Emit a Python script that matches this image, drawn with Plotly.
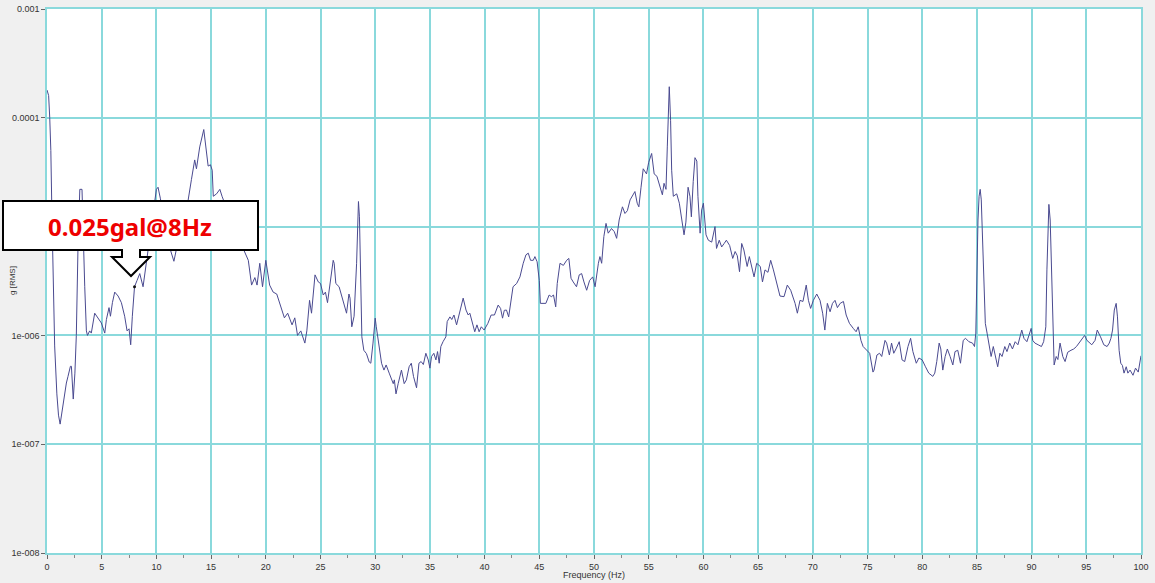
import plotly.graph_objects as go

# ---------------- data ----------------
freq_hz = [
    0.0, 0.15, 0.25, 0.35, 0.45, 0.55, 0.7, 0.9, 1.05, 1.2, 1.46, 1.62, 1.77, 1.92, 2.14, 2.23, 2.32, 2.4,
    2.55, 2.68, 2.84, 3.0, 3.2, 3.3, 3.45, 3.6, 3.7, 3.9, 4.05, 4.36, 4.67, 4.97, 5.28, 5.43, 5.67, 5.8,
    5.98, 6.19, 6.5, 6.8, 7.1, 7.32, 7.5, 7.65, 7.8, 8.0, 8.23, 8.48, 8.78, 9.03, 9.24, 9.6, 10.0, 10.15,
    10.37, 10.7, 11.1, 11.6, 12.0, 12.5, 12.9, 13.2, 13.5, 13.66, 13.96, 14.33, 14.58, 14.73, 14.94, 15.1,
    15.2, 15.5, 15.8, 16.0, 16.5, 17.0, 17.6, 18.1, 18.4, 18.7, 19.0, 19.2, 19.45, 19.7, 20.0, 20.35,
    20.67, 21.0, 21.4, 21.7, 22.0, 22.4, 22.65, 22.9, 23.2, 23.57, 23.75, 24.0, 24.18, 24.5, 24.8, 25.0,
    25.25, 25.45, 25.64, 25.9, 26.16, 26.25, 26.4, 26.7, 26.92, 27.2, 27.38, 27.6, 27.7, 27.86, 28.07,
    28.3, 28.38, 28.47, 28.56, 28.66, 28.78, 28.96, 29.2, 29.45, 29.6, 29.8, 30.0, 30.1, 30.36, 30.58,
    30.8, 31.0, 31.28, 31.5, 31.65, 31.75, 31.9, 32.1, 32.4, 32.65, 32.85, 33.1, 33.3, 33.5, 33.78, 34.0,
    34.2, 34.4, 34.63, 34.85, 35.0, 35.15, 35.36, 35.55, 35.7, 35.85, 36.0, 36.2, 36.46, 36.58, 36.83,
    37.0, 37.2, 37.44, 37.74, 38.04, 38.3, 38.5, 38.65, 38.87, 39.1, 39.3, 39.5, 39.7, 39.96, 40.3, 40.6,
    40.9, 41.24, 41.46, 41.64, 41.8, 42.0, 42.2, 42.4, 42.6, 42.93, 43.23, 43.53, 43.78, 43.99, 44.2,
    44.45, 44.6, 44.8, 45.0, 45.1, 45.36, 45.6, 45.9, 46.1, 46.3, 46.5, 46.64, 46.89, 47.2, 47.5, 47.7,
    47.9, 48.1, 48.4, 48.65, 48.87, 49.08, 49.33, 49.6, 49.88, 50.1, 50.24, 50.4, 50.54, 50.7, 50.9,
    51.1, 51.3, 51.6, 51.85, 52.07, 52.3, 52.6, 52.83, 53.05, 53.3, 53.53, 53.74, 53.95, 54.1, 54.3,
    54.5, 54.8, 55.0, 55.27, 55.5, 55.75, 55.9, 56.0, 56.25, 56.4, 56.58, 56.7, 56.8, 56.88, 57.0, 57.1,
    57.25, 57.56, 57.8, 58.0, 58.23, 58.4, 58.6, 58.77, 58.9, 59.07, 59.23, 59.4, 59.5, 59.7, 59.84,
    60.0, 60.1, 60.24, 60.45, 60.76, 61.06, 61.2, 61.45, 61.67, 61.9, 62.1, 62.4, 62.68, 62.9, 63.1,
    63.3, 63.5, 63.7, 64.0, 64.2, 64.4, 64.63, 64.87, 65.2, 65.4, 65.63, 65.9, 66.15, 66.4, 66.7, 67.0,
    67.37, 67.67, 67.98, 68.15, 68.38, 68.59, 68.83, 69.1, 69.4, 69.6, 69.8, 70.05, 70.36, 70.66, 70.9,
    71.1, 71.33, 71.58, 71.8, 72.03, 72.25, 72.5, 72.8, 73.05, 73.35, 73.7, 73.96, 74.15, 74.4, 74.6,
    74.9, 75.2, 75.5, 75.6, 75.86, 76.1, 76.3, 76.6, 76.75, 77.0, 77.2, 77.4, 77.6, 77.9, 78.16, 78.4,
    78.7, 78.94, 79.15, 79.46, 79.7, 80.0, 80.3, 80.6, 80.97, 81.15, 81.33, 81.55, 81.7, 81.88, 82.1,
    82.3, 82.55, 82.8, 83.0, 83.25, 83.5, 83.75, 83.96, 84.27, 84.6, 84.78, 84.9, 85.0, 85.1, 85.2,
    85.3, 85.4, 85.55, 85.67, 85.77, 85.93, 86.15, 86.3, 86.5, 86.76, 86.9, 87.1, 87.3, 87.55, 87.75,
    88.0, 88.25, 88.5, 88.75, 89.1, 89.3, 89.57, 89.8, 89.96, 90.1, 90.3, 90.6, 90.9, 91.1, 91.3, 91.4,
    91.5, 91.58, 91.7, 91.8, 91.94, 92.06, 92.25, 92.4, 92.6, 92.85, 93.06, 93.3, 93.6, 93.85, 94.1,
    94.45, 94.85, 95.06, 95.3, 95.5, 95.8, 96.0, 96.3, 96.6, 96.9, 97.1, 97.25, 97.4, 97.56, 97.73,
    97.85, 98.0, 98.15, 98.3, 98.45, 98.65, 98.8, 99.0, 99.27, 99.5, 99.75, 100.0,
]

g_rms = [
    1.8e-4, 1.6e-4, 1.0e-4, 5e-5, 1.3e-5, 4e-6, 8e-7, 2.9e-7, 1.85e-7, 1.53e-7, 2.4e-7, 2.9e-7, 3.65e-7, 4.2e-7, 5.2e-7, 5.2e-7, 2.9e-7, 2.6e-7,
    4.5e-7, 1.0e-6, 7e-6, 2.2e-5, 2.2e-5, 8.1e-6, 2.8e-6, 1.1e-6, 1.0e-6, 1.1e-6, 1.05e-6, 1.6e-6, 1.45e-6, 1.3e-6, 1.05e-6, 1.4e-6, 1.8e-6, 1.5e-6,
    2.0e-6, 2.5e-6, 2.3e-6, 2.0e-6, 1.5e-6, 1.1e-6, 1.15e-6, 8.2e-7, 1.5e-6, 2.8e-6, 3.2e-6, 3.7e-6, 2.8e-6, 4.3e-6, 6.1e-6, 1.2e-5, 2.2e-5, 2.3e-5,
    1.8e-5, 1.1e-5, 7e-6, 4.8e-6, 7.5e-6, 1.2e-5, 1.75e-5, 2.7e-5, 4.1e-5, 3.4e-5, 5.4e-5, 7.8e-5, 5.0e-5, 3.6e-5, 3.7e-5, 3.3e-5,
    1.9e-5, 2.0e-5, 2.2e-5, 1.9e-5, 1.4e-5, 1.0e-5, 7.5e-6, 5.7e-6, 4.9e-6, 2.9e-6, 3.4e-6, 2.9e-6, 4.6e-6, 2.8e-6, 4.9e-6, 2.9e-6,
    2.5e-6, 2.4e-6, 1.75e-6, 1.45e-6, 1.6e-6, 1.25e-6, 1.45e-6, 1.0e-6, 1.1e-6, 8.5e-7, 1.1e-6, 2.1e-6, 1.6e-6, 3.6e-6, 3.1e-6, 3.0e-6,
    2.35e-6, 2.5e-6, 2.0e-6, 3.1e-6, 4.9e-6, 4.6e-6, 3.0e-6, 2.8e-6, 2.3e-6, 1.8e-6, 1.6e-6, 2.4e-6, 2.2e-6, 1.2e-6, 1.5e-6,
    4.6e-6, 1.23e-5, 1.7e-5, 1.23e-5, 3.0e-6, 9.7e-7, 7.3e-7, 6.8e-7, 5.7e-7, 5.55e-7, 8.5e-7, 1.44e-6, 1.2e-6, 7.9e-7, 5.55e-7,
    4.8e-7, 5.35e-7, 4.5e-7, 3.9e-7, 3.6e-7, 3.9e-7, 2.9e-7, 3.6e-7, 4.8e-7, 3.6e-7, 3.9e-7, 5.15e-7, 5.55e-7, 4.2e-7, 3.3e-7, 5.55e-7,
    5.75e-7, 5.4e-7, 6.85e-7, 5.95e-7, 5.0e-7, 6.4e-7, 6.85e-7, 5.95e-7, 7.1e-7, 5.55e-7, 7.9e-7, 8.75e-7, 9.7e-7, 1.34e-6, 1.48e-6,
    1.4e-6, 1.54e-6, 1.25e-6, 1.71e-6, 2.2e-6, 1.71e-6, 1.54e-6, 1.6e-6, 1.29e-6, 1.08e-6, 1.25e-6, 1.08e-6, 1.2e-6, 1.12e-6, 1.29e-6, 1.54e-6,
    1.54e-6, 1.9e-6, 1.77e-6, 1.44e-6, 1.7e-6, 1.71e-6, 1.48e-6, 1.97e-6, 2.8e-6, 3.0e-6, 3.45e-6, 4.6e-6, 5.5e-6, 5.7e-6, 4.9e-6,
    4.9e-6, 5.3e-6, 4.75e-6, 3.2e-6, 1.97e-6, 1.97e-6, 1.97e-6, 2.35e-6, 2.27e-6, 2.35e-6, 1.83e-6, 3.0e-6, 4.6e-6, 4.4e-6, 4.9e-6, 5.1e-6,
    3.35e-6, 3.1e-6, 2.8e-6, 3.6e-6, 3.7e-6, 3.1e-6, 2.6e-6, 3.2e-6, 3.45e-6, 2.8e-6, 3.7e-6, 4.6e-6, 5.3e-6, 4.6e-6, 8.1e-6,
    1.07e-5, 8.7e-6, 9.6e-6, 9.0e-6, 7.8e-6, 1.15e-5, 1.52e-5, 1.32e-5, 1.4e-5, 1.76e-5, 1.96e-5, 2.1e-5, 1.64e-5, 1.52e-5, 2.3e-5,
    3.4e-5, 3.05e-5, 3.9e-5, 4.7e-5, 3.05e-5, 2.9e-5, 2.6e-5, 2.3e-5, 1.96e-5, 2.5e-5, 2.2e-5, 5.4e-5, 1.36e-4, 1.93e-4, 9.5e-5, 3.3e-5,
    1.9e-5, 2.0e-5, 1.64e-5, 1.15e-5, 8.4e-6, 1.1e-5, 2.3e-5, 1.9e-5, 1.23e-5, 2.6e-5, 4.3e-5, 4.0e-5, 1.9e-5, 8.7e-6, 1.42e-5,
    1.64e-5, 1.2e-5, 8.4e-6, 7.5e-6, 7.2e-6, 1.0e-5, 6.3e-6, 7.5e-6, 6.5e-6, 7.0e-6, 7.5e-6, 6.7e-6, 5.1e-6, 5.9e-6, 5.4e-6,
    3.85e-6, 7.0e-6, 6.1e-6, 4.3e-6, 5.3e-6, 4.4e-6, 3.45e-6, 4.6e-6, 4.3e-6, 3.1e-6, 4.0e-6, 3.8e-6, 4.9e-6, 4.0e-6, 3.0e-6, 2.3e-6,
    2.27e-6, 2.9e-6, 2.6e-6, 2.3e-6, 1.97e-6, 1.6e-6, 2.1e-6, 2.05e-6, 2.9e-6, 2.1e-6, 1.77e-6, 2.1e-6, 2.4e-6, 2.1e-6, 1.6e-6,
    1.12e-6, 1.97e-6, 1.65e-6, 1.97e-6, 2.1e-6, 1.8e-6, 1.97e-6, 2.05e-6, 1.54e-6, 1.29e-6, 1.16e-6, 1.08e-6, 1.2e-6, 9e-7, 7.9e-7,
    7.3e-7, 6.85e-7, 4.6e-7, 4.8e-7, 6.6e-7, 6.85e-7, 6.4e-7, 9e-7, 8.5e-7, 6.6e-7, 8.5e-7, 6.85e-7, 7.5e-7, 8.75e-7, 5.95e-7, 5.75e-7,
    7.9e-7, 9.4e-7, 7.1e-7, 5.55e-7, 6.2e-7, 5.95e-7, 5.15e-7, 4.5e-7, 4.2e-7, 4.5e-7, 5.75e-7, 8.5e-7, 7.5e-7, 4.8e-7, 6.4e-7,
    7.5e-7, 6.4e-7, 5.35e-7, 7.1e-7, 7.3e-7, 5.55e-7, 9e-7, 9.4e-7, 8.75e-7, 8.5e-7, 7.9e-7, 1.05e-6, 4.3e-6, 1.15e-5, 1.9e-5,
    2.2e-5, 1.76e-5, 7.0e-6, 3.0e-6, 1.29e-6, 1.05e-6, 7.9e-7, 6.4e-7, 7.9e-7, 5.75e-7, 5.15e-7, 6.85e-7, 6.4e-7, 7.9e-7, 7.1e-7,
    8.5e-7, 7.5e-7, 8.75e-7, 8.2e-7, 1.12e-6, 9.4e-7, 8.75e-7, 1.05e-6, 1.16e-6, 9e-7, 8.5e-7, 8.2e-7, 7.9e-7, 8.75e-7, 1.2e-6, 4.0e-6,
    1.32e-5, 1.6e-5, 1.15e-5, 4.9e-6, 9.7e-7, 5.35e-7, 6.4e-7, 6.0e-7, 8.5e-7, 6.4e-7, 5.75e-7, 7.0e-7, 7.3e-7, 7.5e-7, 7.9e-7,
    8.75e-7, 1.0e-6, 9e-7, 8.5e-7, 8.2e-7, 9e-7, 1.12e-6, 9.7e-7, 8.2e-7, 7.9e-7, 8.5e-7, 9.4e-7, 1.12e-6, 1.71e-6, 1.97e-6,
    1.48e-6, 7.3e-7, 5.55e-7, 5.3e-7, 4.5e-7, 5.15e-7, 4.5e-7, 4.8e-7, 4.3e-7, 5.0e-7, 4.6e-7, 6.5e-7,
]

marker_freq = [8.0]
marker_g = [2.8e-6]

x_ticks = [0, 5, 10, 15, 20, 25, 30, 35, 40, 45, 50, 55, 60, 65, 70, 75, 80, 85, 90, 95, 100]
y_tickvals = [1e-8, 1e-7, 1e-6, 1e-5, 1e-4, 1e-3]
y_ticktext = ["1e-008", "1e-007", "1e-006", "1e-005", "0.0001", "0.001"]

x_title = "Frequency (Hz)"
y_title = "g [RMS]"
callout_text = "0.025gal@8Hz"

# ---------------- layout geometry ----------------
W, H = 1155, 583
ML, MR, MT, MB = 47, 14, 9, 30
PW, PH = W - ML - MR, H - MT - MB


def to_paper(px, py):
    return (px - ML) / PW, (H - MB - py) / PH


callout_px = [(3, 201), (258, 201), (258, 250), (140, 250), (140, 257), (150, 257),
              (131, 276), (112, 257), (122, 257), (122, 250), (3, 250)]
pts = [to_paper(a, b) for a, b in callout_px]
callout_path = "M " + " L ".join(f"{x:.5f},{y:.5f}" for x, y in pts) + " Z"
tx, ty = to_paper(130, 226)
xt_x, xt_y = to_paper(594, 575)
yt_x, yt_y = to_paper(12, 281)

GRID = "#8ad9dc"
FONT = "Liberation Sans, Arial, sans-serif"
TXT = "#333333"

fig = go.Figure()
fig.add_trace(go.Scatter(x=freq_hz, y=g_rms, mode="lines",
                         line=dict(color="#4a4a90", width=1), showlegend=False))
fig.add_trace(go.Scatter(x=marker_freq, y=marker_g, mode="markers",
                         marker=dict(color="#111111", size=3), showlegend=False))

fig.update_layout(
    width=W, height=H,
    margin=dict(l=ML, r=MR, t=MT, b=MB),
    paper_bgcolor="#f0f0f0", plot_bgcolor="#ffffff",
    font=dict(family=FONT, size=9, color=TXT),
    showlegend=False,
    xaxis=dict(range=[0, 100], tickvals=x_ticks, ticks="outside", ticklen=4,
               tickcolor="#666666", showgrid=True, gridcolor=GRID, gridwidth=1.5,
               zeroline=False, showline=True, linecolor=GRID, linewidth=1.5, mirror=True,
               minor=dict(dtick=2.5, tick0=2.5, ticks="outside", ticklen=3, tickcolor="#888888", showgrid=False),
               tickfont=dict(size=9, color=TXT), automargin=False),
    yaxis=dict(type="log", range=[-8, -3], tickvals=y_tickvals, ticktext=y_ticktext,
               ticks="outside", ticklen=4, tickcolor="#666666",
               showgrid=True, gridcolor=GRID, gridwidth=1.5, zeroline=False,
               showline=True, linecolor=GRID, linewidth=1.5, mirror=True,
               tickfont=dict(size=9, color=TXT), automargin=False),
    shapes=[dict(type="path", xref="paper", yref="paper", path=callout_path,
                 fillcolor="#ffffff", line=dict(color="#000000", width=2), layer="above")],
    annotations=[
        dict(text=f"<b>{callout_text}</b>", x=tx, y=ty, xref="paper", yref="paper",
             showarrow=False, xanchor="center", yanchor="middle",
             font=dict(family="Noto Sans, Liberation Sans, Arial", size=24, color="#ee0000")),
        dict(text=x_title, x=xt_x, y=xt_y, xref="paper", yref="paper", showarrow=False,
             xanchor="center", yanchor="middle", font=dict(size=9, color=TXT)),
        dict(text=y_title, x=yt_x, y=yt_y, xref="paper", yref="paper", showarrow=False,
             textangle=-90, xanchor="center", yanchor="middle", font=dict(size=8, color=TXT)),
    ],
)

fig.write_html("out.html", config={"displayModeBar": False},
               post_script="document.body.style.margin='0';document.body.style.overflow='hidden';")
